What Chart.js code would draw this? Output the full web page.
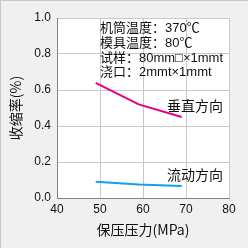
<!DOCTYPE html>
<html><head><meta charset="utf-8">
<script src="https://cdn.jsdelivr.net/npm/chart.js@4/dist/chart.umd.min.js"></script>
<style>
html,body{margin:0;padding:0;background:#f0f0f0;}
#wrap{width:248px;height:248px;position:relative;box-sizing:border-box;border-left:1px solid #c8c8c8;border-top:1px solid #c8c8c8;}
canvas{display:block;}
</style></head><body>
<div id="wrap"><canvas id="c" width="247" height="247"></canvas></div>
<script>
const pressure = [49, 59, 69];
const vertical = [0.64, 0.52, 0.45];
const flow = [0.09, 0.075, 0.067];
const xTicks = [40, 50, 60, 70, 80];
const yTicks = [0.0, 0.2, 0.4, 0.6, 0.8, 1.0];
const noteLines = ['机筒温度：370℃', '模具温度：80℃', '试样：80mm□×1mmt', '浇口：2mmt×1mmt'];
const seriesLabels = ['垂直方向', '流动方向'];

const CJK = '"Noto Sans CJK SC", "Liberation Sans", sans-serif';
const MIX = '"Liberation Sans", "Noto Sans CJK SC", sans-serif';
const bgPlugin = {
  id: 'bg',
  beforeDraw(chart) {
    const {ctx, chartArea: a} = chart;
    ctx.save();
    ctx.fillStyle = '#f0f0f0';
    ctx.fillRect(0, 0, chart.width, chart.height);
    ctx.fillStyle = '#ffffff';
    ctx.fillRect(a.left, a.top, a.right - a.left, a.bottom - a.top);
    ctx.restore();
  },
  afterDatasetsDraw(chart) {
    const {ctx} = chart;
    const xs = chart.scales.x, ys = chart.scales.y;
    ctx.save();
    ctx.fillStyle = '#111';
    ctx.font = '13px ' + MIX;
    ctx.textBaseline = 'middle';
    ctx.textAlign = 'left';
    const x0 = xs.getPixelForValue(50);
    noteLines.forEach((t, i) => {
      ctx.fillText(t, x0, ys.getPixelForValue(0.94 - i * 0.081));
    });
    ctx.font = '14px ' + CJK;
    ctx.fillText(seriesLabels[0], xs.getPixelForValue(65.6), ys.getPixelForValue(0.515));
    ctx.fillText(seriesLabels[1], xs.getPixelForValue(65.6), ys.getPixelForValue(0.128));
    ctx.restore();
  }
};

new Chart(document.getElementById('c'), {
  type: 'line',
  data: {
    datasets: [
      {label: seriesLabels[0], data: pressure.map((x, i) => ({x, y: vertical[i]})), borderColor: '#e4007f', borderWidth: 2, pointRadius: 0, tension: 0},
      {label: seriesLabels[1], data: pressure.map((x, i) => ({x, y: flow[i]})), borderColor: '#13a0e6', borderWidth: 2, pointRadius: 0, tension: 0}
    ]
  },
  options: {
    responsive: false,
    animation: false,
    devicePixelRatio: 1,
    layout: {padding: {left: 0, top: 17, right: 19, bottom: 10}},
    plugins: {legend: {display: false}, tooltip: {enabled: false}},
    scales: {
      x: {
        type: 'linear', min: 40, max: 80,
        afterBuildTicks(s) { s.ticks = xTicks.map(v => ({value: v})); },
        afterFit(s) { s.height = 40; },
        grid: {color: '#c8c8c8', drawTicks: false},
        border: {color: '#808080'},
        ticks: {padding: 4, color: '#111', font: {family: '"Liberation Sans", Arial, sans-serif', size: 12}},
        title: {display: true, text: '保压压力(MPa)', color: '#111', font: {family: CJK, size: 14}, padding: {top: 6, bottom: 0}}
      },
      y: {
        type: 'linear', min: 0, max: 1,
        afterBuildTicks(s) { s.ticks = yTicks.map(v => ({value: v})); },
        afterFit(s) { s.width = 56; },
        grid: {color: '#c8c8c8', drawTicks: false},
        border: {color: '#808080'},
        ticks: {padding: 6, color: '#111', font: {family: '"Liberation Sans", Arial, sans-serif', size: 12}, callback: v => v.toFixed(1)},
        title: {display: true, text: '收缩率(%)', color: '#111', font: {family: CJK, size: 14}, padding: {top: 6, bottom: 4}}
      }
    }
  },
  plugins: [bgPlugin]
});
</script>
</body></html>
